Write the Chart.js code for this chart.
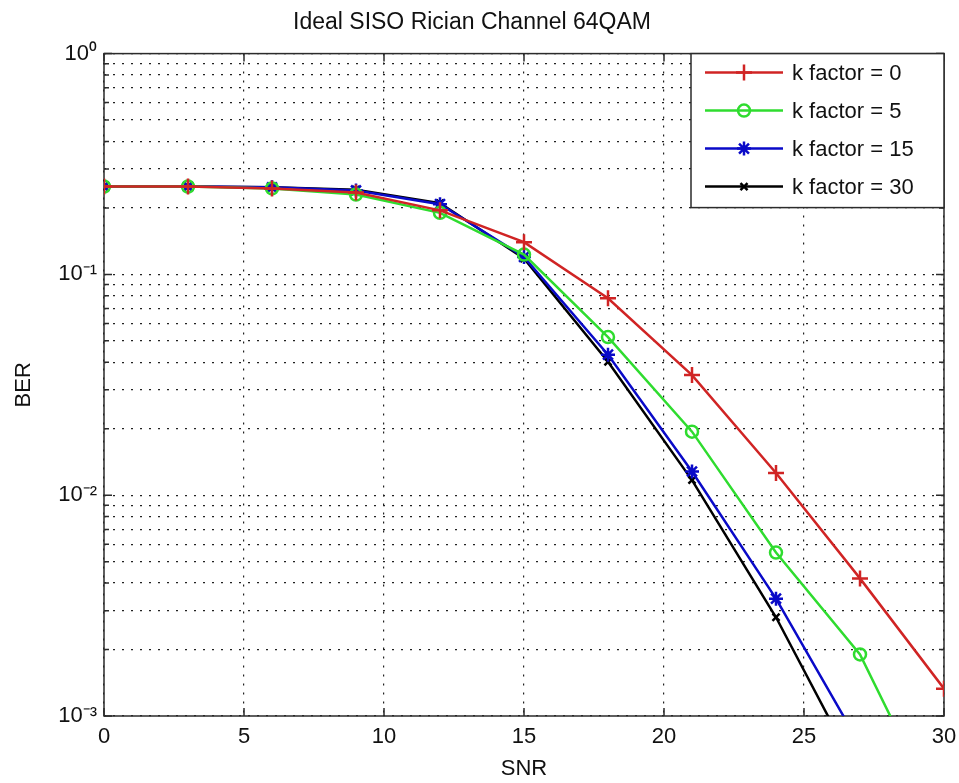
<!DOCTYPE html>
<html>
<head>
<meta charset="utf-8">
<script src="https://cdn.jsdelivr.net/npm/chart.js@4/dist/chart.umd.min.js"></script>
<style>
  html, body { margin: 0; padding: 0; background: #fff; }
  #wrap { width: 959px; height: 783px; }
</style>
</head>
<body>
<div id="wrap"><canvas id="ber-chart"></canvas></div>
<script>
// SNR points and BER for each Rician k factor
const snr = [0, 3, 6, 9, 12, 15, 18, 21, 24, 27, 30];
const berK0 = [0.25, 0.25, 0.245, 0.235, 0.195, 0.14, 0.078, 0.035, 0.0126, 0.0042, 0.00133];
const berK5 = [0.25, 0.25, 0.245, 0.23, 0.19, 0.123, 0.052, 0.0194, 0.0055, 0.0019, 0.00032];
const berK15 = [0.25, 0.25, 0.248, 0.24, 0.208, 0.12, 0.0433, 0.0128, 0.0034, 0.00074, 0.00015];
const berK30 = [0.25, 0.25, 0.248, 0.242, 0.21, 0.118, 0.0402, 0.0117, 0.0028, 0.00053, 0.0001];

const seriesLabels = ["k factor = 0", "k factor = 5", "k factor = 15", "k factor = 30"];
const xTicks = [0, 5, 10, 15, 20, 25, 30];
const yDecades = [1, 0.1, 0.01, 0.001];
const yDecadeLabels = ["10⁰", "10⁻¹", "10⁻²", "10⁻³"];

// minor grid lines 1..9 in every decade
const yGridValues = [];
for (let e = -3; e < 0; e++) {
  for (let m = 1; m <= 9; m++) yGridValues.push(m * Math.pow(10, e));
}
yGridValues.push(1);

const FONT = "'Liberation Sans', Arial, sans-serif";
const gridDash = [2, 7];

function toPoints(ys) {
  return snr.map((x, i) => ({ x: x, y: ys[i] }));
}

function isDecade(v) {
  return yDecades.findIndex((d) => Math.abs(d - v) / d < 1e-6);
}

// axes box with inward ticks, matlab style
const boxPlugin = {
  id: "matlabBox",
  beforeDatasetsDraw(chart) {
    const { ctx, chartArea: a, scales } = chart;
    ctx.save();
    ctx.strokeStyle = "#2b2b2b";
    ctx.lineWidth = 1.5;
    ctx.strokeRect(a.left, a.top, a.right - a.left, a.bottom - a.top);
    ctx.beginPath();
    yGridValues.forEach((v) => {
      const y = scales.y.getPixelForValue(v);
      const len = isDecade(v) >= 0 ? 8 : 5;
      ctx.moveTo(a.left, y); ctx.lineTo(a.left + len, y);
      ctx.moveTo(a.right, y); ctx.lineTo(a.right - len, y);
    });
    xTicks.forEach((v) => {
      const x = scales.x.getPixelForValue(v);
      ctx.moveTo(x, a.bottom); ctx.lineTo(x, a.bottom - 8);
      ctx.moveTo(x, a.top); ctx.lineTo(x, a.top + 8);
    });
    ctx.stroke();
    ctx.restore();
  },
};

const legendPlugin = {
  id: "boxLegend",
  afterDraw(chart) {
    const { ctx, chartArea: a } = chart;
    const w = 253, h = 154, rowH = 38;
    const left = a.right - w, top = a.top;
    ctx.save();
    ctx.fillStyle = "#fff";
    ctx.fillRect(left, top, w, h);
    ctx.strokeStyle = "#2b2b2b";
    ctx.lineWidth = 1.5;
    ctx.strokeRect(left, top, w, h);
    chart.data.datasets.forEach((ds, i) => {
      const y = top + 19 + i * rowH;
      ctx.strokeStyle = ds.borderColor;
      ctx.lineWidth = ds.borderWidth;
      ctx.beginPath();
      ctx.moveTo(left + 14, y);
      ctx.lineTo(left + 92, y);
      ctx.stroke();
      if (Chart.helpers && Chart.helpers.drawPoint) {
        ctx.fillStyle = ds.pointBackgroundColor;
        ctx.strokeStyle = ds.pointBorderColor;
        ctx.lineWidth = ds.pointBorderWidth;
        Chart.helpers.drawPoint(ctx, {
          pointStyle: ds.pointStyle,
          radius: ds.pointRadius,
          rotation: 0,
          borderWidth: ds.pointBorderWidth,
        }, left + 53, y);
      }
      ctx.fillStyle = "#111";
      ctx.font = "22px " + FONT;
      ctx.textBaseline = "middle";
      ctx.fillText(ds.label, left + 101, y + 1);
    });
    ctx.restore();
  },
};

function series(label, data, color, style, radius) {
  return {
    label: label,
    data: toPoints(data),
    borderColor: color,
    borderWidth: 2.5,
    pointStyle: style,
    pointRadius: radius,
    pointBorderColor: color,
    pointBackgroundColor: "rgba(0,0,0,0)",
    pointBorderWidth: 2.5,
    tension: 0,
  };
}

new Chart(document.getElementById("ber-chart").getContext("2d"), {
  type: "line",
  data: {
    datasets: [
      series(seriesLabels[0], berK0, "#d02424", "cross", 8),
      series(seriesLabels[1], berK5, "#2fdc2f", "circle", 6),
      series(seriesLabels[2], berK15, "#0a0ac8", "star", 7),
      series(seriesLabels[3], berK30, "#000000", "crossRot", 5),
    ],
  },
  options: {
    responsive: true,
    maintainAspectRatio: false,
    animation: false,
    layout: { padding: { left: 0, right: 15, top: 0, bottom: 0 } },
    plugins: {
      legend: { display: false },
      tooltip: { enabled: false },
      title: {
        display: true,
        text: "Ideal SISO Rician Channel 64QAM",
        color: "#111",
        font: { family: FONT, size: 23, weight: "normal" },
        padding: { top: 9, bottom: 17 },
      },
    },
    scales: {
      x: {
        type: "linear",
        min: 0,
        max: 30,
        afterBuildTicks: (scale) => {
          scale.ticks = xTicks.map((v) => ({ value: v }));
        },
        afterFit: (scale) => {
          scale.height = 67;
          scale.paddingLeft = 0;
          scale.paddingRight = 0;
        },
        grid: { color: "#222", lineWidth: 1.2, drawTicks: false },
        border: { display: false, dash: gridDash },
        ticks: {
          color: "#111",
          padding: 8,
          font: { family: FONT, size: 22 },
          maxRotation: 0,
        },
        title: {
          display: true,
          text: "SNR",
          color: "#111",
          font: { family: FONT, size: 22 },
          padding: { top: 0, bottom: 1 },
        },
      },
      y: {
        type: "logarithmic",
        min: 0.001,
        max: 1,
        afterBuildTicks: (scale) => {
          scale.ticks = yGridValues.map((v) => ({ value: v }));
        },
        afterFit: (scale) => {
          scale.width = 104;
        },
        grid: { color: "#222", lineWidth: 1.2, drawTicks: false },
        border: { display: false, dash: gridDash },
        ticks: {
          color: "#111",
          padding: 7,
          autoSkip: false,
          font: { family: FONT, size: 22 },
          callback: (value) => {
            const k = isDecade(value);
            return k >= 0 ? yDecadeLabels[k] : "";
          },
        },
        title: {
          display: true,
          text: "BER",
          color: "#111",
          font: { family: FONT, size: 22 },
          padding: { top: 11, bottom: 0 },
        },
      },
    },
  },
  plugins: [boxPlugin, legendPlugin],
});
</script>
</body>
</html>
